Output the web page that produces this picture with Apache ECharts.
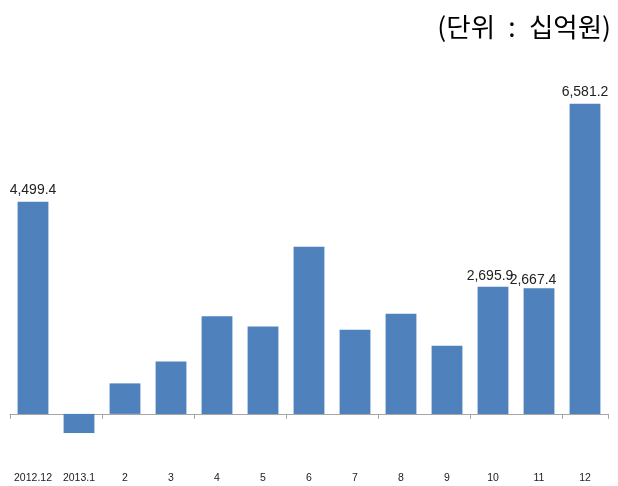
<!DOCTYPE html>
<html>
<head>
<meta charset="utf-8">
<script src="https://cdn.jsdelivr.net/npm/echarts@6/dist/echarts.min.js"></script>
<style>
html,body{margin:0;padding:0;background:#fff;}
#chart{width:618px;height:486px;}
</style>
</head>
<body>
<div id="chart"></div>
<script>
var categories = ['2012.12','2013.1','2','3','4','5','6','7','8','9','10','11','12'];
var values = [4499.4, -407, 647, 1113, 2073, 1855, 3545, 1785, 2124, 1446, 2695.9, 2667.4, 6581.2];
var labelled = [true, false, false, false, false, false, false, false, false, false, true, true, true];
var unitText = '(단위\u2002:\u2002십억원)';

var chart = echarts.init(document.getElementById('chart'));
var data = values.map(function (v, i) {
  var item = { value: v };
  if (labelled[i]) {
    item.label = { show: true };
    if (i === 10) item.label.offset = [-3, 1];
    if (i === 11) item.label.offset = [-6, 4];
  }
  return item;
});
chart.setOption({
  animation: false,
  title: {
    text: unitText,
    right: 2,
    top: 9,
    textStyle: { fontFamily: 'Noto Sans CJK KR', fontSize: 26.5, fontWeight: 'normal', color: '#000' }
  },
  grid: { left: 10, right: 10, top: 84, bottom: 25, containLabel: false },
  xAxis: [{
    type: 'category',
    data: categories,
    position: 'bottom',
    axisLine: { show: false, onZero: false },
    axisTick: { show: false },
    axisLabel: { margin: 12, fontSize: 10.5, color: '#1a1a1a', fontFamily: 'Liberation Sans', interval: 0 }
  }, {
    type: 'category',
    data: categories,
    position: 'bottom',
    axisLine: { show: true, onZero: true, lineStyle: { color: '#a6a6a6', width: 1 } },
    axisTick: { show: true, length: 5, lineStyle: { color: '#a6a6a6' } },
    axisLabel: { show: false }
  }],
  yAxis: {
    type: 'value',
    min: -1000,
    max: 7000,
    show: false,
    splitLine: { show: false }
  },
  series: [{
    type: 'bar',
    xAxisIndex: 0,
    data: data,
    barWidth: '67%',
    itemStyle: { color: '#4f81bd' },
    label: {
      show: false,
      position: 'top',
      distance: 5,
      fontSize: 14,
      fontFamily: 'Liberation Sans',
      color: '#222',
      formatter: function (p) {
        return p.value.toLocaleString('en-US', { minimumFractionDigits: 1, maximumFractionDigits: 1 });
      }
    }
  }]
});
</script>
</body>
</html>
